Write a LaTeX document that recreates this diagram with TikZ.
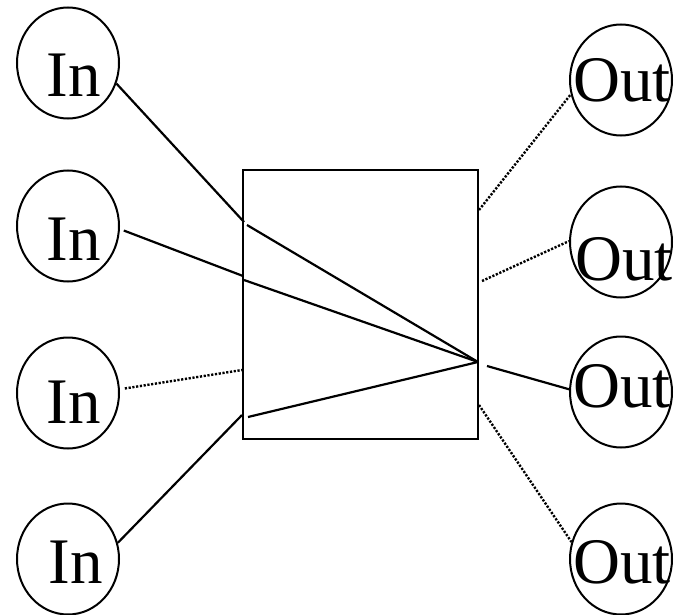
\documentclass[tikz,border=0pt]{standalone}
\usepackage{fontspec}
\setmainfont{Liberation Serif}
\usetikzlibrary{shapes.geometric}
\tikzset{
  port/.style={ellipse, draw, line width=2pt, minimum width=102pt, minimum height=111pt, inner sep=0pt},
  lbl/.style={anchor=base, inner sep=0pt, font=\fontsize{65}{65}\selectfont},
  wire/.style={line width=2.2pt},
  dwire/.style={line width=2.4pt, dash pattern=on 2.2pt off 1.6pt},
  blk/.style={draw, line width=2.5pt}
}
\begin{document}
\begin{tikzpicture}[x=1pt,y=-1pt]
\useasboundingbox (0,0) rectangle (677,615);
% input circles
\node[port] (in1) at (68,63) {};
\node[port] (in2) at (68,226) {};
\node[port] (in3) at (68,393) {};
\node[port] (in4) at (68,559) {};
% output circles
\node[port] (out1) at (621,80) {};
\node[port] (out2) at (621,242) {};
\node[port] (out3) at (621,392) {};
\node[port] (out4) at (621,559) {};
% labels
\node[lbl] (tin1) at (74,97) {In};
\node[lbl] (tin2) at (74,260) {In};
\node[lbl] (tin3) at (74,423) {In};
\node[lbl] (tin4) at (76,583) {In};
\node[lbl] (tout1) at (622,102) {Out};
\node[lbl] (tout2) at (624,280) {Out};
\node[lbl] (tout3) at (622,407) {Out};
\node[lbl] (tout4) at (622,583) {Out};
% box
\draw[blk] (243,170) rectangle (478,439);
% port coordinates
\coordinate (p1) at (244,222);
\coordinate (p1i) at (247,225);
\coordinate (p2) at (243,276);
\coordinate (p2i) at (244,280);
\coordinate (p3) at (242,370);
\coordinate (p4) at (242,415);
\coordinate (p4i) at (248,417);
\coordinate (hub) at (478,362);
\coordinate (q1) at (479,210);
\coordinate (q2) at (482,281);
\coordinate (q3) at (487,366);
\coordinate (q4) at (479,405);
% input connectors
\draw[wire] (in1.-23) -- (p1);
\draw[wire] (in2.-5) ++(4,0) -- (p2);
\draw[dwire] (in3.5) ++(5,0) -- (p3);
\draw[wire] (in4.18) -- (p4);
% inner connectors
\draw[wire] (p1i) -- (hub);
\draw[wire] (p2i) -- (hub);
\draw[wire] (p4i) -- (hub);
% output connectors
\draw[dwire] (q1) -- (out1.196);
\draw[dwire] (q2) -- (out2.179);
\draw[wire] (q3) -- (out3.177);
\draw[dwire] (q4) -- (out4.161);
\end{tikzpicture}
\end{document}
